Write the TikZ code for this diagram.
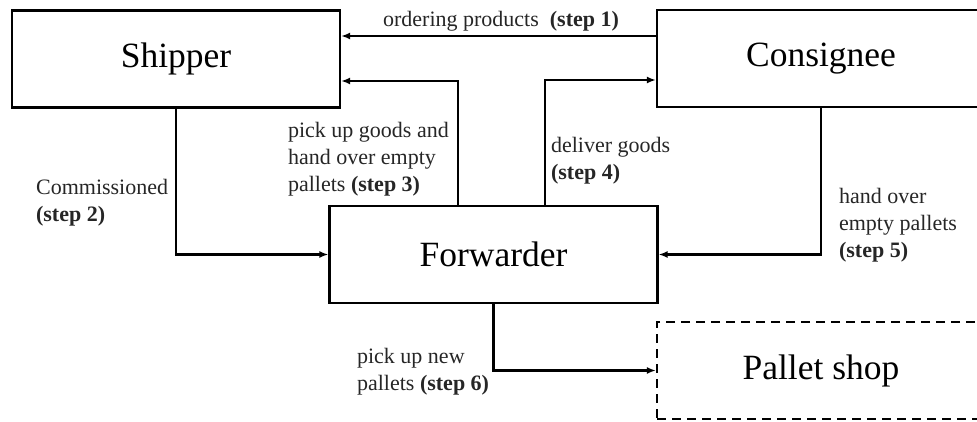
\documentclass[tikz,border=0pt]{standalone}
\usepackage{fontspec}
\setmainfont{Liberation Serif}
\usetikzlibrary{arrows.meta}

\begin{document}
\begin{tikzpicture}[x=1pt,y=-1pt,->,>={Latex[length=9pt,width=7pt]},line width=2.2pt,
  main/.style = {draw,rectangle,minimum width=328pt,minimum height=97pt,inner sep=0pt,font=\fontsize{35.5}{42}\selectfont},
  lbl/.style = {align=left,anchor=base west,inner sep=0pt,text=black!85,font=\fontsize{22}{27}\selectfont}]

\clip (0,0) rectangle (977,422);

\node[main] (ship) at (176,59) {Shipper};
\node[main] (cons) at (821,58.5) {Consignee};
\node[main] (fwd) at (493.5,254.5) {Forwarder};
\node[main,dash pattern=on 9pt off 6pt] (shop) at (821,370.5) {Pallet shop};

\coordinate (s1) at (0,36);
\coordinate (s3) at (458,81);
\coordinate (s4) at (545,80);

\draw (cons.west |- s1) -- (ship.east |- s1);
\draw (ship.south) |- (fwd.west);
\draw (s3 |- fwd.north) -- (s3) -- (ship.east |- s3);
\draw (s4 |- fwd.north) -- (s4) -- (cons.west |- s4);
\draw (cons.south) |- (fwd.east);
\draw (fwd.south) |- (shop.west);

\node[lbl] (l1) at (382,27) {ordering products\ \ \textbf{(step 1)}};
\node[lbl] (l2) at (35,222) {Commissioned\\\textbf{(step 2)}};
\node[lbl] (l3) at (287,192) {pick up goods and\\hand over empty\\pallets \textbf{(step 3)}};
\node[lbl] (l4) at (550,180) {deliver goods\\\textbf{(step 4)}};
\node[lbl] (l5) at (838,257) {hand over\\empty pallets\\\textbf{(step 5)}};
\node[lbl] (l6) at (356,390) {pick up new\\pallets \textbf{(step 6)}};

\end{tikzpicture}
\end{document}
